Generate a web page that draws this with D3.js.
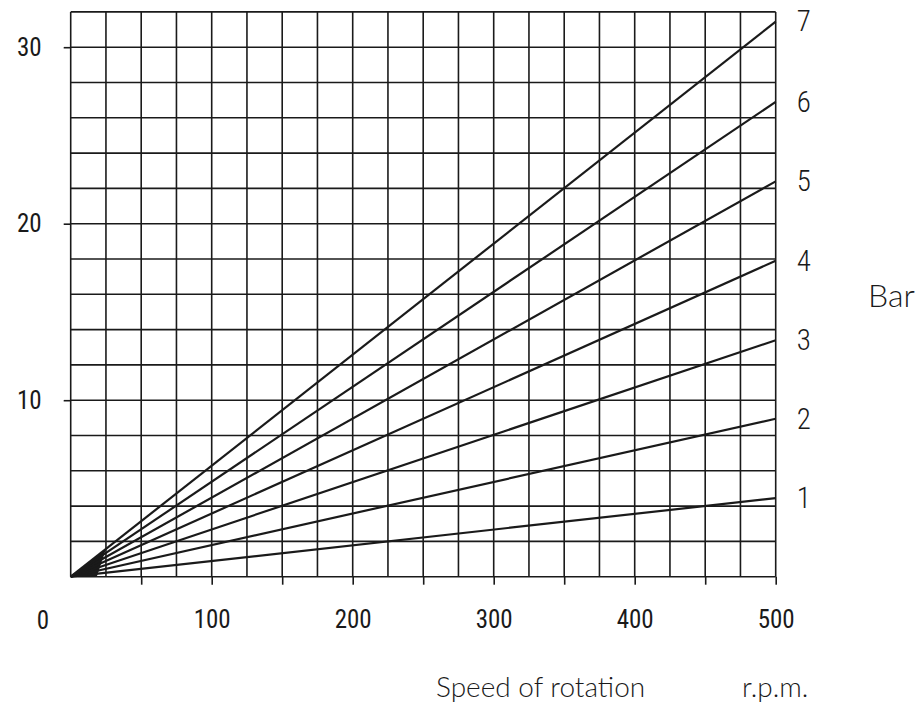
<!DOCTYPE html>
<html>
<head>
<meta charset="utf-8">
<script src="https://cdn.jsdelivr.net/npm/d3@7"></script>
<style>
  html, body { margin: 0; padding: 0; background: #fff; }
  svg { display: block; }
</style>
</head>
<body>
<svg id="chart" width="919" height="704"></svg>
<script>
// ---- data ----
const barLabels = ["1", "2", "3", "4", "5", "6", "7"];
const valuesAt500 = [4.45, 8.95, 13.4, 17.9, 22.4, 26.9, 31.45];
const speedRange = [0, 500];
const xTickLabels = [100, 200, 300, 400, 500];
const xTickMarks = [50, 100, 150, 200, 250, 300, 350, 400, 450, 500];
const yTickLabels = [10, 20, 30];
const xGrid = d3.range(0, 501, 25);
const yGrid = d3.range(0, 33, 2);
const wedge = [[0, 0], [25, 1.57], [18.5, 0]];

const svg = d3.select("#chart");
const x = d3.scaleLinear().domain([0, 500]).range([70.7, 775.7]);
const y = d3.scaleLinear().domain([0, 32]).range([576.7, 11.9]);
const ink = "#1a1a1a";
const numFont = "'Liberation Sans Narrow', 'Roboto Condensed', 'DejaVu Sans Condensed', Roboto, sans-serif";
const lightFont = "Lato, 'Open Sans', Roboto, sans-serif";

// grid
const g = svg.append("g");
g.selectAll("line.vx").data(xGrid).join("line")
  .attr("x1", d => x(d)).attr("x2", d => x(d))
  .attr("y1", y(0)).attr("y2", y(32))
  .attr("stroke", ink).attr("stroke-width", 1.6);
g.selectAll("line.hy").data(yGrid).join("line")
  .attr("y1", d => y(d)).attr("y2", d => y(d))
  .attr("x1", x(0)).attr("x2", x(500))
  .attr("stroke", ink).attr("stroke-width", 1.6);

// wedge at origin
svg.append("path")
  .attr("d", d3.line().x(d => x(d[0])).y(d => y(d[1]))(wedge) + "Z")
  .attr("fill", ink);

// series lines
svg.selectAll("line.series").data(valuesAt500).join("line")
  .attr("x1", x(speedRange[0])).attr("y1", y(0))
  .attr("x2", x(speedRange[1])).attr("y2", d => y(d))
  .attr("stroke", ink).attr("stroke-width", 2.2);

// bottom axis
const bx = svg.append("g").attr("transform", `translate(0,${y(0)})`)
  .call(d3.axisBottom(x).tickValues(xTickMarks).tickSize(8)
    .tickFormat(d => xTickLabels.includes(d) ? d : "").tickPadding(26));
bx.select(".domain").remove();
bx.selectAll("line").attr("stroke", ink).attr("stroke-width", 1.6);
bx.selectAll("text").attr("font-family", numFont).attr("font-size", 25)
  .attr("fill", ink).attr("font-weight", 400);

// corner zero label
svg.append("text").attr("x", 43).attr("y", 628.5).attr("text-anchor", "middle")
  .attr("font-family", numFont).attr("font-size", 25).attr("fill", ink).text("0");

// left axis
const ly = svg.append("g").attr("transform", `translate(${x(0)},0)`)
  .call(d3.axisLeft(y).tickValues(yTickLabels).tickSize(7).tickPadding(22));
ly.select(".domain").remove();
ly.selectAll("line").attr("stroke", ink).attr("stroke-width", 1.6);
ly.selectAll("text").attr("font-family", numFont).attr("font-size", 25).attr("fill", ink);

// right labels
const ry = svg.append("g").attr("transform", `translate(${x(500)},0)`)
  .call(d3.axisRight(y).tickValues(valuesAt500).tickSize(0).tickPadding(21)
    .tickFormat((d, i) => barLabels[i]));
ry.select(".domain").remove();
ry.selectAll("text").attr("font-family", numFont).attr("font-size", 29)
  .attr("font-weight", 300).attr("fill", ink);

// unit labels
svg.append("text").attr("x", 868).attr("y", 307)
  .attr("font-family", lightFont).attr("font-weight", 300).attr("font-size", 32)
  .attr("fill", ink).text("Bar");
svg.append("text").attr("x", 436).attr("y", 697)
  .attr("font-family", lightFont).attr("font-weight", 300).attr("font-size", 28)
  .attr("fill", ink).text("Speed of rotation");
svg.append("text").attr("x", 742).attr("y", 697)
  .attr("font-family", lightFont).attr("font-weight", 300).attr("font-size", 28)
  .attr("fill", ink).text("r.p.m.");
</script>
</body>
</html>
